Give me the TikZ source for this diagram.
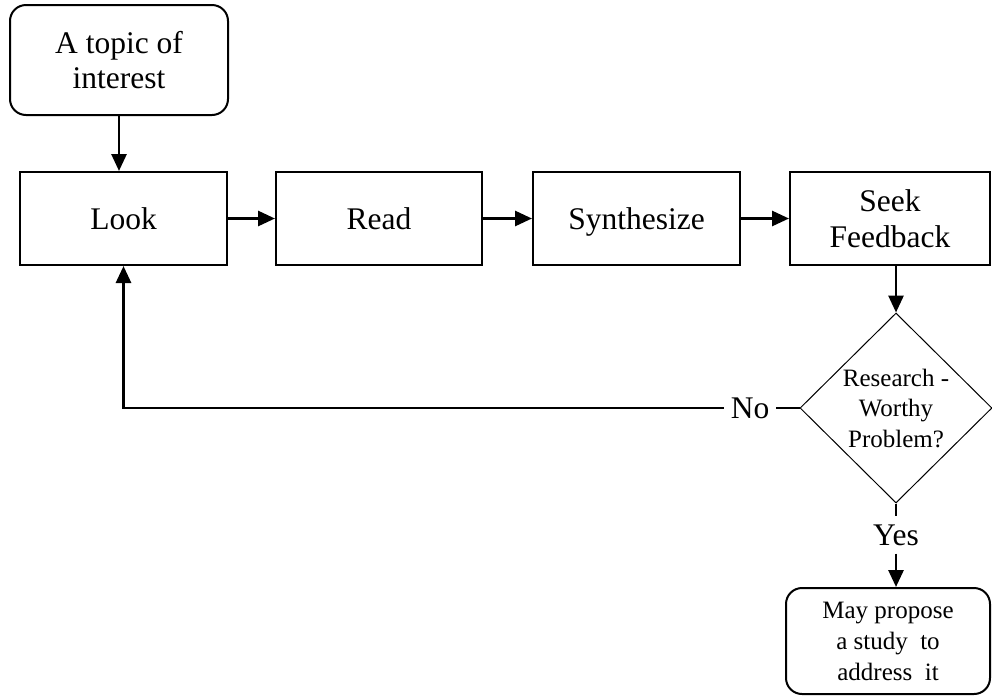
\documentclass[tikz,border=0pt]{standalone}
\usepackage{fontspec}
\setmainfont{Liberation Serif}
\usetikzlibrary{shapes.geometric,arrows.meta}
\begin{document}
\begin{tikzpicture}[x=1pt,y=1pt,
  box/.style={draw,line width=2pt,inner sep=0pt,align=center,font=\fontsize{31.5}{35.5}\selectfont},
  one/.style={text height=21pt,text depth=0pt},
  rbox/.style={box,rounded corners=16pt},
  dec/.style={draw,diamond,line width=1pt,inner sep=0pt,align=center,font=\fontsize{25}{30.5}\selectfont},
  lbl/.style={inner xsep=7pt,inner ysep=8pt,font=\fontsize{31.5}{36}\selectfont},
  arr/.style={line width=2.8pt,-{Triangle[width=15pt,length=17pt]}},
  ln/.style={line width=1.4pt}]
\useasboundingbox (0,0) rectangle (992,-697);
\node[rbox,minimum width=218pt,minimum height=110pt] (topic) at (119,-60) {A topic of\\interest};
\node[box,one,minimum width=207pt,minimum height=93pt] (look) at (123.5,-218.5) {Look};
\node[box,one,minimum width=206pt,minimum height=93pt] (read) at (379,-218.5) {Read};
\node[box,one,minimum width=207pt,minimum height=93pt] (synth) at (636.5,-218.5) {Synthesize};
\node[box,minimum width=200pt,minimum height=93pt] (seek) at (890,-218.5) {Seek\\Feedback};
\node[dec,minimum width=192pt,minimum height=190pt] (dia) at (896,-408) {Research -\\Worthy\\Problem?};
\node[lbl] (no) at (750,-408) {No};
\node[lbl] (yes) at (896,-535) {Yes};
\node[rbox,minimum width=204pt,minimum height=106pt,font=\fontsize{25}{31}\selectfont] (final) at (888,-641) {May propose\\a study\ \ to\\address\ \ it};
\draw[arr] (topic.south) -- (topic.south |- look.north);
\draw[arr] (look.east) -- (read.west);
\draw[arr] (read.east) -- (synth.west);
\draw[arr] (synth.east) -- (seek.west);
\draw[arr] (dia.north |- seek.south) -- (dia.north);
\draw[ln] (dia.west) -- (no.east);
\draw[arr] (no.west) -| (look.south);
\draw[ln] (dia.south) -- (yes.north);
\draw[arr] (yes.south) -- (yes.south |- final.north);
\end{tikzpicture}
\end{document}
